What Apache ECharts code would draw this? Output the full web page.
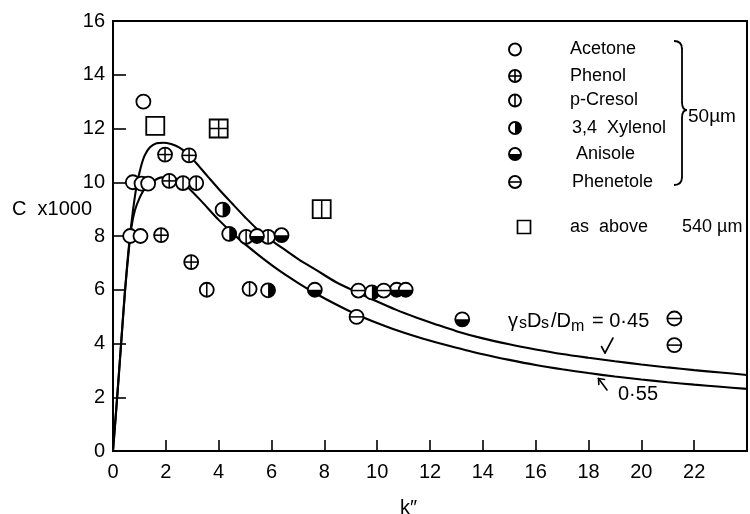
<!DOCTYPE html>
<html>
<head>
<meta charset="utf-8">
<script src="https://cdn.jsdelivr.net/npm/echarts@6/dist/echarts.min.js"></script>
<style>
  html, body { margin: 0; padding: 0; background: #fff; }
  #chart { width: 750px; height: 514px; }
</style>
</head>
<body>
<div id="chart"></div>
<script>
// ---- data: [k'', C x 1000] ----
// 50 µm particles
const acetone   = [[1.15, 13.0], [0.75, 10.0], [1.08, 9.95], [1.33, 9.95], [0.65, 8.0], [1.04, 8.0]];
const phenol    = [[1.97, 11.03], [2.88, 11.0], [2.13, 10.05], [1.82, 8.03], [2.96, 7.03]];
const pCresol   = [[2.65, 9.97], [3.15, 9.97], [5.04, 7.97], [5.87, 7.97], [3.55, 6.0], [5.17, 6.03]];
const xylenol   = [[4.15, 8.98], [4.4, 8.08], [5.87, 5.98], [9.8, 5.9]];
const anisole   = [[5.45, 8.0], [6.38, 8.03], [7.64, 6.0], [10.74, 6.0], [11.08, 6.0], [13.22, 4.9]];
const phenetole = [[9.29, 5.97], [10.25, 5.97], [9.22, 4.99], [21.25, 4.93], [21.25, 3.94]];
// 540 µm particles (same solutes, square marks)
const acetone540 = [[1.6, 12.1]];
const phenol540  = [[4.0, 12.0]];
const pCresol540 = [[7.9, 9.0]];

// theoretical curves, gamma_s*D_s/D_m = 0.45 and 0.55
const curve045 = [[0, 0], [0.15, 1.9], [0.3, 3.9], [0.45, 5.9], [0.6, 7.6], [0.75, 8.9], [0.9, 9.9],
  [1.05, 10.55], [1.2, 11.0], [1.4, 11.3], [1.65, 11.45], [1.9, 11.47], [2.2, 11.42], [2.5, 11.3],
  [2.75, 11.12], [3.0, 10.88], [3.25, 10.6], [3.6, 10.2], [4.0, 9.75], [4.5, 9.22], [5.0, 8.7],
  [5.5, 8.22], [6.0, 7.84], [6.5, 7.49], [7.0, 7.15], [7.7, 6.73], [8.45, 6.28], [9.3, 5.88],
  [10.0, 5.56], [10.7, 5.26], [11.5, 4.96], [12.2, 4.72], [13.0, 4.46], [14.0, 4.19], [15.0, 3.97],
  [16.0, 3.78], [17.0, 3.61], [18.0, 3.47], [19.0, 3.34], [20.0, 3.22], [21.0, 3.11], [22.0, 3.01],
  [23.0, 2.92], [24.0, 2.83]];
const curve055 = [[0, 0], [0.15, 1.9], [0.3, 3.9], [0.45, 5.9], [0.6, 7.5], [0.7, 8.35], [0.83, 8.96],
  [1.0, 9.4], [1.2, 9.75], [1.5, 10.02], [1.85, 10.18], [2.2, 10.18], [2.5, 10.08], [2.87, 9.78],
  [3.37, 9.27], [4.0, 8.6], [4.73, 7.92], [5.5, 7.3], [6.23, 6.76], [7.0, 6.26], [7.64, 5.88],
  [8.45, 5.45], [9.22, 5.08], [10.0, 4.76], [10.6, 4.54], [11.5, 4.25], [12.5, 3.97], [13.3, 3.77],
  [14.0, 3.6], [15.0, 3.39], [16.0, 3.2], [17.0, 3.04], [18.0, 2.9], [19.0, 2.77], [20.0, 2.66],
  [21.0, 2.56], [22.0, 2.47], [23.0, 2.39], [24.0, 2.31]];

// axis ticks
const xTicks = [0, 2, 4, 6, 8, 10, 12, 14, 16, 18, 20, 22];
const yTicks = [0, 2, 4, 6, 8, 10, 12, 14, 16];

const FONT = '"Liberation Sans", Arial, sans-serif';
const INK = '#000';

// Builds the glyph for one solute: circle (50 µm) or square (540 µm) with its inner pattern.
function markShapes(kind, shape, x, y, size, lw) {
  const out = [];
  const h = size / 2;
  if (shape === 'circle') {
    out.push({ type: 'circle', shape: { cx: x, cy: y, r: h }, style: { fill: '#fff', stroke: null } });
    if (kind === 'xylenol') {
      out.push({ type: 'sector', shape: { cx: x, cy: y, r0: 0, r: h, startAngle: -Math.PI / 2, endAngle: Math.PI / 2, clockwise: true }, style: { fill: INK } });
    }
    if (kind === 'anisole') {
      out.push({ type: 'sector', shape: { cx: x, cy: y, r0: 0, r: h, startAngle: 0, endAngle: Math.PI, clockwise: true }, style: { fill: INK } });
    }
  } else {
    out.push({ type: 'rect', shape: { x: x - h, y: y - h, width: size, height: size }, style: { fill: '#fff', stroke: null } });
  }
  const ln = (x1, y1, x2, y2) => out.push({ type: 'line', shape: { x1, y1, x2, y2 }, style: { stroke: INK, lineWidth: lw * 0.85 } });
  if (kind === 'phenol' || kind === 'cresol') ln(x, y - h, x, y + h);
  if (kind === 'phenol' || kind === 'phenetole') ln(x - h, y, x + h, y);
  if (shape === 'circle') {
    out.push({ type: 'circle', shape: { cx: x, cy: y, r: h }, style: { fill: null, stroke: INK, lineWidth: lw } });
  } else {
    out.push({ type: 'rect', shape: { x: x - h, y: y - h, width: size, height: size }, style: { fill: null, stroke: INK, lineWidth: lw } });
  }
  return out;
}

function markSeries(name, data, kind, shape, size) {
  return {
    type: 'custom',
    name: name,
    data: data,
    z: 5,
    encode: { x: 0, y: 1 },
    renderItem: function (params, api) {
      const p = api.coord([api.value(0), api.value(1)]);
      return { type: 'group', children: markShapes(kind, shape, p[0], p[1], size, 1.8) };
    }
  };
}

function curveSeries(name, data) {
  return {
    type: 'line',
    name: name,
    data: data,
    smooth: 0.3,
    showSymbol: false,
    symbol: 'none',
    z: 2,
    lineStyle: { color: INK, width: 2.1 },
    emphasis: { disabled: true }
  };
}

const seg = (x1, y1, x2, y2, w) => ({ type: 'line', silent: true, shape: { x1, y1, x2, y2 },
  style: { stroke: INK, lineWidth: w || 1.7, lineCap: 'round' } });
const qcurve = (x1, y1, cx, cy, x2, y2) => ({ type: 'bezierCurve', silent: true,
  shape: { x1, y1, cpx1: cx, cpy1: cy, x2, y2 }, style: { stroke: INK, fill: null, lineWidth: 1.8 } });
const label = (text, x, y, size) => ({ type: 'text', x, y, silent: true,
  style: { text, fontSize: size, fontFamily: FONT, fill: INK, align: 'left', verticalAlign: 'middle' } });

// legend block drawn at fixed positions on the right
const legendRows = [
  { kind: 'acetone', label: 'Acetone', y: 49.5, tx: 570 },
  { kind: 'phenol', label: 'Phenol', y: 76, tx: 570 },
  { kind: 'cresol', label: 'p-Cresol', y: 100.5, tx: 570 },
  { kind: 'xylenol', label: '3,4  Xylenol', y: 128, tx: 572 },
  { kind: 'anisole', label: 'Anisole', y: 154, tx: 576 },
  { kind: 'phenetole', label: 'Phenetole', y: 182, tx: 572 }
];

const graphics = [];
legendRows.forEach(r => {
  graphics.push({ type: 'group', silent: true, children: markShapes(r.kind, 'circle', 515, r.y, 12, 1.9) });
  graphics.push(label(r.label, r.tx, r.y, 18));
});
graphics.push({ type: 'group', silent: true, children: markShapes('acetone', 'square', 524, 227, 13, 1.7) });
graphics.push(label('as  above', 570, 227, 18));
graphics.push(label('540 µm', 682, 227, 18));
// curly brace grouping the 50 µm solutes
graphics.push(qcurve(674, 41, 682, 41, 682, 49));
graphics.push(seg(682, 49, 682, 102, 1.8));
graphics.push(qcurve(682, 102, 682, 110, 687, 110));
graphics.push(qcurve(687, 110, 682, 110, 682, 118));
graphics.push(seg(682, 118, 682, 177, 1.8));
graphics.push(qcurve(682, 177, 682, 185, 674, 185));
graphics.push(label('50µm', 688, 117, 19));

// axis titles
graphics.push(label('C  x1000', 12, 209, 20));
graphics.push({ type: 'text', x: 400, y: 498, silent: true,
  style: { text: 'k\u2033', fontSize: 20, fontFamily: FONT, fill: INK, align: 'left', verticalAlign: 'top' } });

// curve labels: gamma_s D_s / D_m = 0.45 (subscripts set lower and smaller)
graphics.push(label('\u03b3', 508, 321, 20));
graphics.push(label('s', 519, 324, 16));
graphics.push(label('D', 527, 321, 20));
graphics.push(label('s', 541, 324, 16));
graphics.push(label('/D', 551, 321, 20));
graphics.push(label('m', 571, 327, 16));
graphics.push(label('= 0\u00b745', 592, 321, 20));
graphics.push(seg(613, 338, 605, 353, 1.6));
graphics.push(seg(605, 353, 601.5, 346.5, 1.6));
graphics.push(seg(607, 390, 598.5, 378.5, 1.6));
graphics.push(seg(598.5, 378.5, 604.5, 379.5, 1.6));
graphics.push(seg(598.5, 378.5, 598.8, 384.5, 1.6));
graphics.push(label('0\u00b755', 618, 394, 20));

const chart = echarts.init(document.getElementById('chart'), null, { renderer: 'canvas' });
chart.setOption({
  animation: false,
  backgroundColor: '#fff',
  grid: { left: 113, top: 21, bottom: 63, right: -8, show: true, borderColor: INK, borderWidth: 2, backgroundColor: 'transparent' },
  xAxis: {
    type: 'value', min: 0, max: 24, interval: 2,
    axisLine: { show: true, onZero: false, lineStyle: { color: INK, width: 2 } },
    axisTick: { show: true, inside: true, length: 11, lineStyle: { color: INK, width: 1.6 } },
    axisLabel: { color: INK, fontSize: 20, fontFamily: FONT, margin: 11,
      formatter: v => (xTicks.indexOf(v) >= 0 ? String(v) : '') },
    splitLine: { show: false }
  },
  yAxis: {
    type: 'value', min: 0, max: 16, interval: 2,
    axisLine: { show: true, onZero: false, lineStyle: { color: INK, width: 2 } },
    axisTick: { show: true, inside: true, length: 13, lineStyle: { color: INK, width: 1.6 } },
    axisLabel: { color: INK, fontSize: 20, fontFamily: FONT, margin: 8,
      formatter: v => (yTicks.indexOf(v) >= 0 ? String(v) : '') },
    splitLine: { show: false }
  },
  graphic: graphics,
  series: [
    curveSeries('0.45', curve045),
    curveSeries('0.55', curve055),
    markSeries('Acetone', acetone, 'acetone', 'circle', 14),
    markSeries('Phenol', phenol, 'phenol', 'circle', 14),
    markSeries('p-Cresol', pCresol, 'cresol', 'circle', 14),
    markSeries('3,4 Xylenol', xylenol, 'xylenol', 'circle', 14),
    markSeries('Anisole', anisole, 'anisole', 'circle', 14),
    markSeries('Phenetole', phenetole, 'phenetole', 'circle', 14),
    markSeries('Acetone 540', acetone540, 'acetone', 'square', 18),
    markSeries('Phenol 540', phenol540, 'phenol', 'square', 18),
    markSeries('p-Cresol 540', pCresol540, 'cresol', 'square', 18)
  ]
});
</script>
</body>
</html>
